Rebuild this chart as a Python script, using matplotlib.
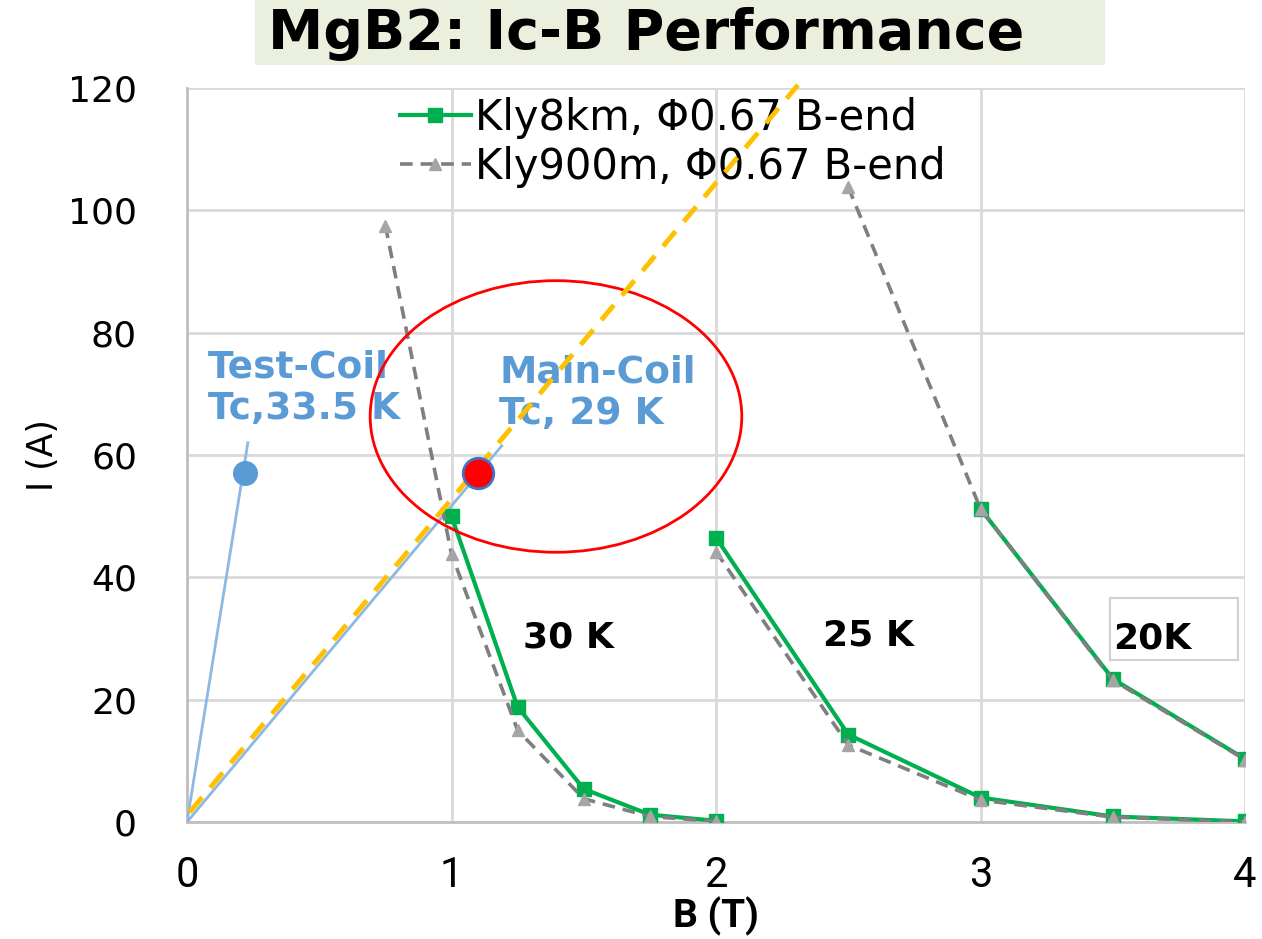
import matplotlib
matplotlib.use("Agg")
import matplotlib.pyplot as plt
from matplotlib.patches import Ellipse, Rectangle

# Kly8km, Φ0.67 B-end  (green, one curve per temperature)
b_30k_8km = [1.0, 1.25, 1.5, 1.75, 2.0]
i_30k_8km = [50.0, 18.8, 5.4, 1.2, 0.2]
b_25k_8km = [2.0, 2.5, 3.0, 3.5, 4.0]
i_25k_8km = [46.5, 14.3, 4.0, 0.9, 0.1]
b_20k_8km = [3.0, 3.5, 4.0]
i_20k_8km = [51.2, 23.4, 10.3]

# Kly900m, Φ0.67 B-end  (grey dashed)
b_30k_900 = [0.75, 1.0, 1.25, 1.5, 1.75, 2.0]
i_30k_900 = [97.5, 43.8, 15.0, 3.8, 0.9, 0.1]
b_25k_900 = [2.0, 2.5, 3.0, 3.5, 4.0]
i_25k_900 = [44.2, 12.6, 3.6, 0.8, 0.0]
b_20k_900 = [2.5, 3.0, 3.5, 4.0]
i_20k_900 = [103.8, 51.2, 23.2, 10.2]

# Coil load lines
test_coil_b = [0.0, 0.23]
test_coil_i = [0.0, 62.0]
test_coil_op = (0.22, 57.0)
main_coil_b = [0.0, 1.19]
main_coil_i = [0.0, 61.5]
main_coil_op = (1.10, 57.0)
orange_b = [0.01, 2.31]
orange_i = [1.6, 120.5]

x_ticks = [0, 1, 2, 3, 4]
y_ticks = [0, 20, 40, 60, 80, 100, 120]

GREEN = "#00B050"
GREY_LINE = "#7F7F7F"
GREY_MARK = "#A5A5A5"
BLUE = "#5B9BD5"
LIGHT_BLUE = "#8DB8E2"
ORANGE = "#FFC000"

fig = plt.figure(figsize=(12.62, 9.39), dpi=100)
ax = fig.add_axes([187 / 1262, 1 - 822 / 939, 1058 / 1262, 734 / 939])

# title banner
fig.patches.append(Rectangle((255 / 1262, 1 - 65 / 939), 850 / 1262, 65 / 939,
                             transform=fig.transFigure, facecolor="#EBF0DE",
                             edgecolor="none", zorder=0))
fig.text(0.512, 1 - 34 / 939, "MgB2: Ic-B Performance", ha="center", va="center",
         fontsize=40, fontweight="bold", family="DejaVu Sans")

# load lines
ax.plot(test_coil_b, test_coil_i, color=LIGHT_BLUE, lw=2, zorder=3)
ax.plot(main_coil_b, main_coil_i, color=LIGHT_BLUE, lw=2, zorder=3)
ax.plot(*test_coil_op, marker="o", ms=17, color=BLUE, mec=BLUE, zorder=4)

# Kly8km curves
ln8, = ax.plot(b_30k_8km, i_30k_8km, color=GREEN, lw=3, marker="s", ms=10,
               label="Kly8km, Φ0.67 B-end", zorder=4)
ax.plot(b_25k_8km, i_25k_8km, color=GREEN, lw=3, marker="s", ms=10, zorder=4)
ax.plot(b_20k_8km, i_20k_8km, color=GREEN, lw=3, marker="s", ms=10, zorder=4)

# Kly900m curves
dash_kw = dict(color=GREY_LINE, lw=2.6, ls=(0, (3.5, 2.2)), marker="^", ms=9,
               mfc=GREY_MARK, mec=GREY_MARK, zorder=4.5)
ln900, = ax.plot(b_30k_900, i_30k_900, label="Kly900m, Φ0.67 B-end", **dash_kw)
ax.plot(b_25k_900, i_25k_900, **dash_kw)
ax.plot(b_20k_900, i_20k_900, **dash_kw)

# orange reference line
ax.plot(orange_b, orange_i, color=ORANGE, lw=3.5, ls=(0, (4, 2.6)),
        zorder=7, clip_on=False)

# highlighted operating region
ax.add_patch(Ellipse((1.395, 66.3), 1.405, 44.4, facecolor="none",
                     edgecolor="#FF0000", lw=2, zorder=6))
ax.plot(*main_coil_op, marker="o", ms=22, color="#FF0000", mec="#4472C4",
        mew=2, zorder=8)

# labels
ax.text(0.08, 77.3, "Test-Coil\nTc,33.5 K", color=BLUE, fontsize=27,
        fontweight="bold", va="top", ha="left", linespacing=1.2, zorder=5)
ax.text(1.18, 76.5, "Main-Coil\nTc, 29 K", color=BLUE, fontsize=27,
        fontweight="bold", va="top", ha="left", linespacing=1.2, zorder=5)
ax.text(1.27, 30.2, "30 K", fontsize=26, fontweight="bold", va="center", ha="left")
ax.text(2.405, 30.5, "25 K", fontsize=26, fontweight="bold", va="center", ha="left")
ax.add_patch(Rectangle((3.49, 26.5), 0.485, 10.1, facecolor="white",
                       edgecolor="#D0D0D0", lw=1.5, zorder=3))
ax.text(3.50, 30.0, "20K", fontsize=26, fontweight="bold", va="center", ha="left",
        zorder=5)

# axes styling
ax.set_xlim(0, 4)
ax.set_ylim(0, 120)
ax.set_xticks(x_ticks)
ax.set_yticks(y_ticks)
ax.set_xticklabels([str(v) for v in x_ticks], family="Roboto", fontsize=30)
ax.set_yticklabels([str(v) for v in y_ticks], family="DejaVu Sans", fontsize=26)
ax.tick_params(axis="x", length=0, pad=24)
ax.tick_params(axis="y", length=0, pad=36)
ax.grid(True, color="#D9D9D9", lw=2)
ax.set_axisbelow(True)
for side in ["top", "right"]:
    ax.spines[side].set_visible(False)
for side in ["left", "bottom"]:
    ax.spines[side].set_color("#BFBFBF")
    ax.spines[side].set_linewidth(2)

ax.set_xlabel("B (T)", family="Roboto", fontsize=28, fontweight="bold", labelpad=0)
ax.set_ylabel("I (A)", family="DejaVu Sans", fontsize=25, labelpad=6)

leg = ax.legend(handles=[ln8, ln900], loc="upper left",
                bbox_to_anchor=(0.2013, 0.988), frameon=False, fontsize=30,
                handlelength=1.7, handletextpad=0.1, labelspacing=0.17,
                borderpad=0, borderaxespad=0)
leg.set_zorder(5)

fig.savefig("out.png", dpi=100)
